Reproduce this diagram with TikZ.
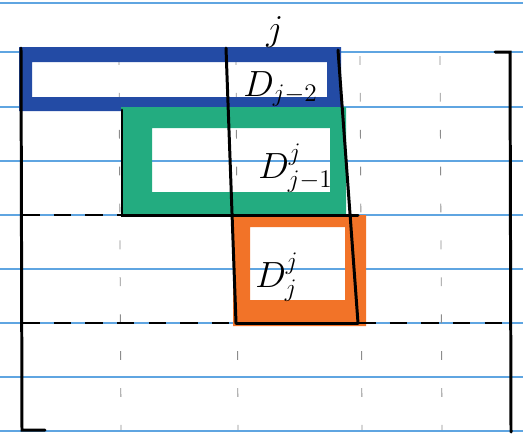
\documentclass[tikz,border=0pt]{standalone}
\usepackage{amsmath}
\usepackage{xcolor}
\usepackage{tikz}

\definecolor{ruleblue}{RGB}{95,165,225}
\definecolor{markblue}{RGB}{35,75,165}
\definecolor{markgreen}{RGB}{35,172,128}
\definecolor{markorange}{RGB}{242,115,40}

\tikzset{
  pen/.style={black, line width=1.7pt, line cap=round},
  pencil/.style={black!45, line width=0.5pt, dash pattern=on 5pt off 16pt},
  penbroken/.style={black, line width=1.4pt, dash pattern=on 10pt off 8pt},
  lbl/.style={font=\fontsize{22}{26}\selectfont, inner sep=0pt, anchor=base west}
}

\begin{document}
\begin{tikzpicture}[x=0.02cm, y=-0.02cm]
  \useasboundingbox (0,0) rectangle (523,434);
  % ruled paper
  \foreach \y in {3,52,107,161,215,269,323,377,431}
    \draw[ruleblue, line width=0.8pt] (0,\y) -- (523,\y);
  % faint column guides
  \foreach \x in {119,236,360,440}
    \draw[pencil] (\x,56) -- (\x+2,430);
  % blocks
  \fill[markblue, even odd rule] (19,47) rectangle (341,111) (32,62) rectangle (327,97);
  \fill[markgreen, even odd rule] (121,107) rectangle (346,215) (152,128) rectangle (330,192);
  \fill[markorange, even odd rule] (233,215) rectangle (366,326) (250,227) rectangle (345,300);
  % frame
  \draw[pen] (21,48) -- (22,430) -- (45,430);
  \draw[pen] (495,52) -- (510,52) -- (511,432);
  \draw[pen] (226,48) -- (236,323);
  \draw[pen] (338,50) -- (358,323);
  \draw[pen] (122,110) -- (122,215) -- (236,215) -- (358,215);
  \draw[pen] (236,323) -- (358,323);
  \draw[penbroken] (22,215) -- (122,215);
  \draw[penbroken] (22,323) -- (236,323);
  \draw[penbroken] (358,323) -- (510,323);
  % labels
  \node[lbl] (jtop) at (266,40) {$j$};
  \node[lbl] (dtwo) at (243,96) {$D_{j-2}$};
  \node[lbl] (done) at (258,178) {$D^{j}_{j-1}$};
  \node[lbl] (dzero) at (255,287) {$D^{j}_{j}$};
\end{tikzpicture}
\end{document}
